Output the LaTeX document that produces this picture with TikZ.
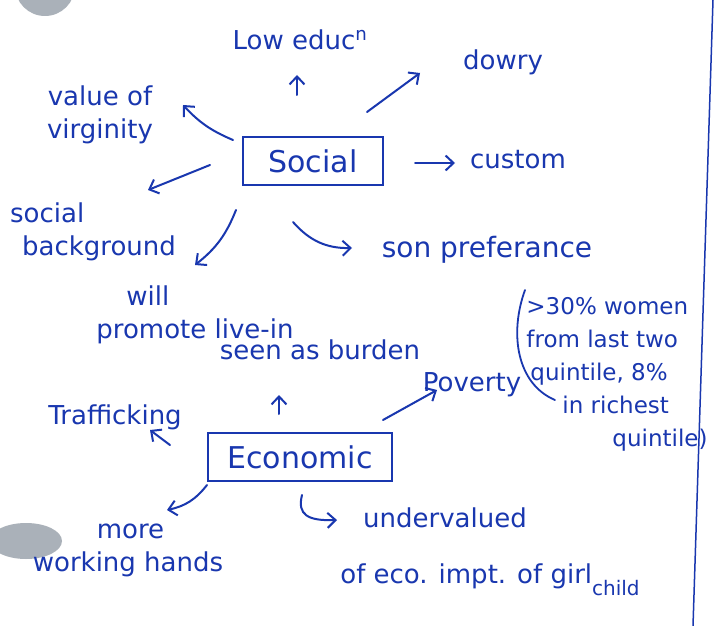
\documentclass[tikz,border=0pt]{standalone}
\usepackage{fontspec}
\setmainfont{DejaVu Sans}
\usetikzlibrary{arrows.meta}
\definecolor{ink}{RGB}{25,55,175}
\definecolor{holegray}{RGB}{170,177,185}
\begin{document}
\begin{tikzpicture}[x=1pt,y=-1pt,
  lbl/.style={text=ink, font=\fontsize{26}{33}\selectfont, inner sep=0pt, align=center},
  mainbox/.style={draw=ink, line width=2pt, inner sep=0pt, text=ink, font=\fontsize{30}{34}\selectfont},
  arr/.style={draw=ink, line width=2pt, line cap=round, -{Straight Barb[length=8pt,width=15pt,line width=2pt]}}]
\useasboundingbox (0,0) rectangle (718,626);
\fill[white] (0,0) rectangle (718,626);
% punched holes and margin line
\fill[holegray] (45,-14) circle (30);
\fill[holegray] (26,541) ellipse (36 and 18);
\draw[ink, line width=1.5pt] (713,0) -- (693,626);

% central boxes
\node[mainbox, minimum width=140pt, minimum height=48pt] (social) at (313,161) {Social};
\node[mainbox, minimum width=184pt, minimum height=48pt] (econ) at (300,457) {Economic};

% social branches
\node[lbl] (lowedu) at (300,40) {Low educ\textsuperscript{n}};
\node[lbl] (dowry) at (503,62) {dowry};
\node[lbl] (virg) at (100,115) {value of\\virginity};
\node[lbl] (custom) at (518,160) {custom};
\node[lbl, align=left] (socbg) at (93,232) {social\\\hspace*{12pt}background};
\node[lbl, font=\fontsize{28}{33}\selectfont] (son) at (487,250) {son preferance};
\node[lbl, align=left] (live) at (195,315) {\hspace*{30pt}will\\promote live-in};

% economic branches
\node[lbl] (burden) at (320,350) {seen as burden};
\node[lbl] (traff) at (115,417) {Trafficking};
\node[lbl] (poverty) at (472,385) {Poverty};
\node[lbl, align=left, font=\fontsize{23}{33}\selectfont] (paren) at (617,374)
  {>30\% women\\from last two\\\hspace*{4pt}quintile, 8\%\\\hspace*{36pt}in richest\\\hspace*{86pt}quintile)};
\node[lbl, align=left] (morework) at (128,550) {\hspace*{64pt}more\\working hands};
\node[lbl] (underval) at (445,518) {undervalued};
\node[lbl] (ecoimpt) at (490,580) {of eco. impt. of girl\raisebox{-12pt}{\fontsize{20}{22}\selectfont child}};

% big bracket
\draw[ink, line width=1.8pt, line cap=round] ([shift={(-92,-84)}]paren.center) .. controls ([shift={(-108,-40)}]paren.center) and ([shift={(-100,10)}]paren.center) .. ([shift={(-62,26)}]paren.center);

% social arrows
\draw[arr] ([shift={(-16,-66)}]social.center) -- ([shift={(-3,35)}]lowedu.center);
\draw[arr] ([shift={(54,-49)}]social.center) -- ([shift={(-83,11)}]dowry.center);
\draw[arr] ([shift={(-80,-21)}]social.center) to[bend left=12] ([shift={(83,-10)}]virg.center);
\draw[arr] ([shift={(102,2)}]social.center) -- ([shift={(-63,3)}]custom.center);
\draw[arr] ([shift={(-103,4)}]social.center) -- ([shift={(55,-42)}]socbg.center);
\draw[arr] ([shift={(-77,49)}]social.center) to[bend left=15] ([shift={(0,-50)}]live.center);
\draw[arr] ([shift={(-20,61)}]social.center) to[bend right=25] ([shift={(-135,-2)}]son.center);

% economic arrows
\draw[arr] ([shift={(-21,-43)}]econ.center) -- ([shift={(-41,45)}]burden.center);
\draw[arr] ([shift={(-130,-12)}]econ.center) -- ([shift={(35,13)}]traff.center);
\draw[arr] ([shift={(83,-37)}]econ.center) -- ([shift={(-35,5)}]poverty.center);
\draw[arr] ([shift={(-93,28)}]econ.center) to[bend left=20] ([shift={(39,-40)}]morework.center);
\draw[arr] ([shift={(2,38)}]econ.center) .. controls ([shift={(-3,58)}]econ.center) and ([shift={(8,64)}]econ.center) .. ([shift={(-108,2)}]underval.center);
\end{tikzpicture}
\end{document}
